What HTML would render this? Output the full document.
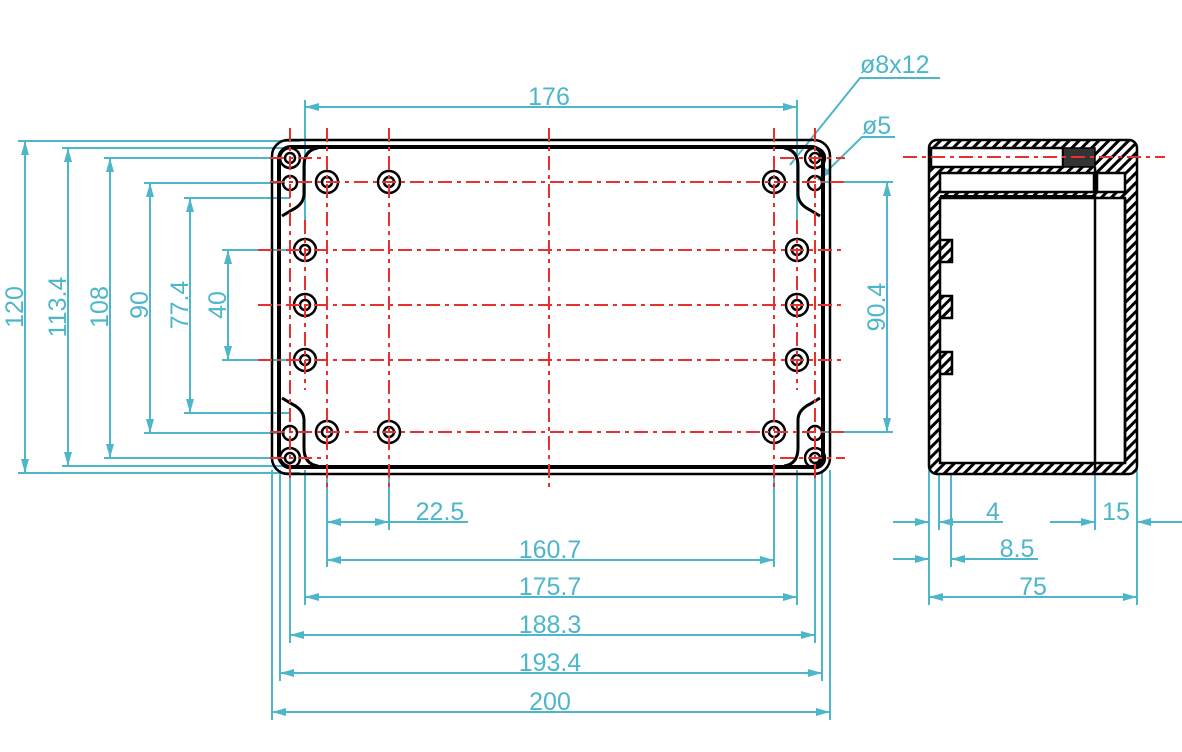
<!DOCTYPE html>
<html><head><meta charset="utf-8"><style>
html,body{margin:0;padding:0;background:#fff;}
svg{display:block}
text{font-family:"Liberation Sans",sans-serif;font-size:25px;fill:#4db6cb}
</style></head><body>
<svg width="1182" height="752" viewBox="0 0 1182 752" xmlns="http://www.w3.org/2000/svg">
<defs>
<marker id="a" viewBox="0 0 14 8" refX="14" refY="4" markerWidth="14" markerHeight="8" markerUnits="userSpaceOnUse" orient="auto-start-reverse"><path d="M0 0 L14 4 L0 8 z" fill="#4db6cb"/></marker>
<pattern id="h" width="7" height="7" patternUnits="userSpaceOnUse" patternTransform="rotate(45)"><rect width="7" height="7" fill="#fff"/><rect width="3" height="7" fill="#000"/></pattern>
</defs>

<g stroke="#4db6cb" stroke-width="2" fill="none">
 <line x1="18" y1="141" x2="300" y2="141"/>
 <line x1="18" y1="473" x2="300" y2="473"/>
 <line x1="62" y1="148" x2="300" y2="148"/>
 <line x1="62" y1="466" x2="300" y2="466"/>
 <line x1="104" y1="158" x2="285" y2="158"/>
 <line x1="104" y1="458" x2="285" y2="458"/>
 <line x1="144" y1="183" x2="285" y2="183"/>
 <line x1="144" y1="433" x2="285" y2="433"/>
 <line x1="184" y1="198" x2="290" y2="198"/>
 <line x1="184" y1="413" x2="290" y2="413"/>
 <line x1="222" y1="250" x2="298" y2="250"/>
 <line x1="222" y1="360" x2="298" y2="360"/>
 <line x1="25" y1="141" x2="25" y2="473" marker-start="url(#a)" marker-end="url(#a)"/>
 <line x1="68" y1="148" x2="68" y2="466" marker-start="url(#a)" marker-end="url(#a)"/>
 <line x1="110" y1="158" x2="110" y2="458" marker-start="url(#a)" marker-end="url(#a)"/>
 <line x1="150" y1="183" x2="150" y2="433" marker-start="url(#a)" marker-end="url(#a)"/>
 <line x1="190" y1="198" x2="190" y2="413" marker-start="url(#a)" marker-end="url(#a)"/>
 <line x1="228" y1="250" x2="228" y2="360" marker-start="url(#a)" marker-end="url(#a)"/>
 <line x1="825" y1="182" x2="893" y2="182"/>
 <line x1="825" y1="432" x2="893" y2="432"/>
 <line x1="887" y1="182" x2="887" y2="432" marker-start="url(#a)" marker-end="url(#a)"/>
 <line x1="305" y1="100" x2="305" y2="230"/>
 <line x1="797" y1="100" x2="797" y2="230"/>
 <line x1="305" y1="107" x2="797" y2="107" marker-start="url(#a)" marker-end="url(#a)"/>
 <polyline points="790,165 860,78 940,78"/>
 <polyline points="818,180 862,137 895,137" marker-start="url(#a)"/>
 <line x1="327" y1="470" x2="327" y2="567"/>
 <line x1="389" y1="470" x2="389" y2="530"/>
 <line x1="774" y1="470" x2="774" y2="567"/>
 <line x1="305" y1="470" x2="305" y2="605"/>
 <line x1="797" y1="470" x2="797" y2="605"/>
 <line x1="290" y1="470" x2="290" y2="643"/>
 <line x1="815" y1="470" x2="815" y2="643"/>
 <line x1="280" y1="470" x2="280" y2="681"/>
 <line x1="822" y1="470" x2="822" y2="681"/>
 <line x1="272" y1="470" x2="272" y2="720"/>
 <line x1="830" y1="470" x2="830" y2="720"/>
 <line x1="327" y1="522" x2="389" y2="522" marker-start="url(#a)" marker-end="url(#a)"/>
 <line x1="389" y1="522" x2="468" y2="522"/>
 <line x1="327" y1="560" x2="774" y2="560" marker-start="url(#a)" marker-end="url(#a)"/>
 <line x1="305" y1="597" x2="797" y2="597" marker-start="url(#a)" marker-end="url(#a)"/>
 <line x1="290" y1="635" x2="815" y2="635" marker-start="url(#a)" marker-end="url(#a)"/>
 <line x1="280" y1="673" x2="822" y2="673" marker-start="url(#a)" marker-end="url(#a)"/>
 <line x1="272" y1="712" x2="830" y2="712" marker-start="url(#a)" marker-end="url(#a)"/>
 <line x1="929" y1="470" x2="929" y2="605"/>
 <line x1="939" y1="470" x2="939" y2="530"/>
 <line x1="951" y1="380" x2="951" y2="567"/>
 <line x1="1095" y1="470" x2="1095" y2="530"/>
 <line x1="1137" y1="470" x2="1137" y2="605"/>
 <line x1="893" y1="522" x2="929" y2="522" marker-end="url(#a)"/>
 <line x1="1003" y1="522" x2="939" y2="522" marker-end="url(#a)"/>
 <line x1="893" y1="559" x2="929" y2="559" marker-end="url(#a)"/>
 <line x1="1038" y1="559" x2="951" y2="559" marker-end="url(#a)"/>
 <line x1="1050" y1="522" x2="1095" y2="522" marker-end="url(#a)"/>
 <line x1="1182" y1="522" x2="1137" y2="522" marker-end="url(#a)"/>
 <line x1="929" y1="597" x2="1137" y2="597" marker-start="url(#a)" marker-end="url(#a)"/>
</g>

<g fill="none" stroke="#000">
 <rect x="272" y="140" width="558" height="334" rx="16" stroke-width="2.5"/>
 <rect x="279" y="147" width="544" height="320" rx="12" stroke-width="4"/>
 <path d="M318 148 Q304 150 304 166 L304 194 Q304 204 292 210 L282 216" stroke-width="3"/>
 <path d="M784 148 Q798 150 798 166 L798 194 Q798 204 810 210 L820 216" stroke-width="3"/>
 <path d="M318 466 Q304 464 304 448 L304 420 Q304 410 292 404 L282 398" stroke-width="3"/>
 <path d="M784 466 Q798 464 798 448 L798 420 Q798 410 810 404 L820 398" stroke-width="3"/>
 <g stroke-width="2.5">
  <circle cx="290" cy="158" r="10"/><circle cx="290" cy="158" r="5"/>
  <circle cx="815" cy="158" r="10"/><circle cx="815" cy="158" r="5"/>
  <circle cx="290" cy="458" r="10"/><circle cx="290" cy="458" r="5"/>
  <circle cx="815" cy="458" r="10"/><circle cx="815" cy="458" r="5"/>
  <circle cx="290" cy="183" r="7"/><circle cx="815" cy="183" r="7"/>
  <circle cx="290" cy="433" r="7"/><circle cx="815" cy="433" r="7"/>
  <circle cx="327" cy="182" r="11"/><circle cx="327" cy="182" r="5"/>
  <circle cx="389" cy="182" r="11"/><circle cx="389" cy="182" r="5"/>
  <circle cx="774" cy="182" r="11"/><circle cx="774" cy="182" r="5"/>
  <circle cx="327" cy="432" r="11"/><circle cx="327" cy="432" r="5"/>
  <circle cx="389" cy="432" r="11"/><circle cx="389" cy="432" r="5"/>
  <circle cx="774" cy="432" r="11"/><circle cx="774" cy="432" r="5"/>
  <circle cx="305" cy="250" r="11"/><circle cx="305" cy="250" r="5"/>
  <circle cx="305" cy="305" r="11"/><circle cx="305" cy="305" r="5"/>
  <circle cx="305" cy="360" r="11"/><circle cx="305" cy="360" r="5"/>
  <circle cx="797" cy="250" r="11"/><circle cx="797" cy="250" r="5"/>
  <circle cx="797" cy="305" r="11"/><circle cx="797" cy="305" r="5"/>
  <circle cx="797" cy="360" r="11"/><circle cx="797" cy="360" r="5"/>
 </g>
</g>

<g stroke="#000" stroke-width="2.5">
 <rect x="929" y="140" width="208" height="334" rx="8" fill="url(#h)"/>
 <rect x="940" y="198" width="185" height="265" fill="#fff"/>
 <rect x="931" y="148" width="132" height="19" fill="#fff"/>
 <rect x="1063" y="148" width="32" height="19" fill="#333" stroke-width="1.5"/>
 <rect x="940" y="173" width="154" height="19" fill="#fff"/>
 <rect x="1097" y="173" width="28" height="19" fill="#fff"/>
 <line x1="940" y1="196" x2="1095" y2="196" stroke-width="2"/>
 <line x1="1095" y1="167" x2="1095" y2="470"/>
 <line x1="1125" y1="198" x2="1125" y2="463"/>
 <rect x="940" y="240" width="12" height="22" fill="url(#h)"/>
 <rect x="940" y="296" width="12" height="22" fill="url(#h)"/>
 <rect x="940" y="352" width="12" height="22" fill="url(#h)"/>
</g>

<g stroke="#e8302e" stroke-width="2" stroke-dasharray="14 5 4 5" fill="none">
 <line x1="270" y1="158" x2="322" y2="158"/>
 <line x1="780" y1="158" x2="845" y2="158"/>
 <line x1="270" y1="182" x2="845" y2="182"/>
 <line x1="258" y1="250" x2="845" y2="250"/>
 <line x1="258" y1="305" x2="845" y2="305"/>
 <line x1="258" y1="360" x2="845" y2="360"/>
 <line x1="270" y1="432" x2="845" y2="432"/>
 <line x1="270" y1="458" x2="322" y2="458"/>
 <line x1="780" y1="458" x2="845" y2="458"/>
 <line x1="290" y1="128" x2="290" y2="482"/>
 <line x1="815" y1="128" x2="815" y2="482"/>
 <line x1="305" y1="220" x2="305" y2="390"/>
 <line x1="797" y1="220" x2="797" y2="390"/>
 <line x1="327" y1="128" x2="327" y2="490"/>
 <line x1="389" y1="128" x2="389" y2="490"/>
 <line x1="549" y1="128" x2="549" y2="490"/>
 <line x1="774" y1="128" x2="774" y2="490"/>
 <line x1="903" y1="157" x2="1165" y2="157"/>
</g>

<text x="549" y="105" text-anchor="middle">176</text>
<text x="860" y="73">ø8x12</text>
<text x="862" y="134">ø5</text>
<text transform="translate(23,307) rotate(-90)" text-anchor="middle">120</text>
<text transform="translate(66,307) rotate(-90)" text-anchor="middle">113.4</text>
<text transform="translate(108,307) rotate(-90)" text-anchor="middle">108</text>
<text transform="translate(148,305) rotate(-90)" text-anchor="middle">90</text>
<text transform="translate(188,305) rotate(-90)" text-anchor="middle">77.4</text>
<text transform="translate(226,305) rotate(-90)" text-anchor="middle">40</text>
<text transform="translate(885,307) rotate(-90)" text-anchor="middle">90.4</text>
<text x="440" y="520" text-anchor="middle">22.5</text>
<text x="550" y="558" text-anchor="middle">160.7</text>
<text x="550" y="595" text-anchor="middle">175.7</text>
<text x="550" y="633" text-anchor="middle">188.3</text>
<text x="550" y="671" text-anchor="middle">193.4</text>
<text x="550" y="710" text-anchor="middle">200</text>
<text x="993" y="520" text-anchor="middle">4</text>
<text x="1017" y="557" text-anchor="middle">8.5</text>
<text x="1116" y="520" text-anchor="middle">15</text>
<text x="1033" y="595" text-anchor="middle">75</text>
</svg>
</body></html>
